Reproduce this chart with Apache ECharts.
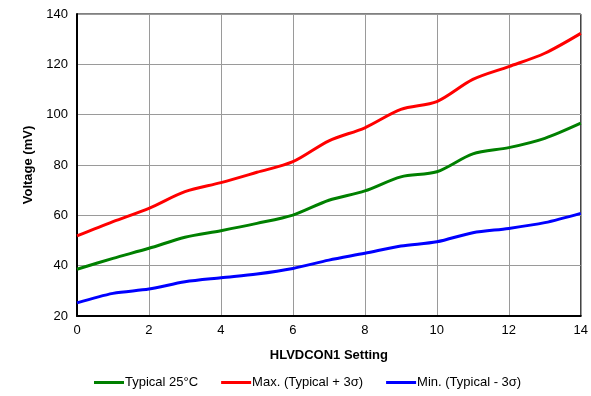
<!DOCTYPE html>
<html>
<head>
<meta charset="utf-8">
<script src="https://cdn.jsdelivr.net/npm/echarts@6/dist/echarts.min.js"></script>
<style>
  html, body { margin: 0; padding: 0; background: #fff; }
  #main { width: 591px; height: 396px; }
</style>
</head>
<body>
<div id="main"></div>
<script>
// HLVDCON1 settings 0..14
const settings = [0, 1, 2, 3, 4, 5, 6, 7, 8, 9, 10, 11, 12, 13, 14]

// voltages, mV
const typical = [38.6, 42.9, 46.9, 51.3, 53.9, 56.8, 60.1, 66.0, 69.7, 75.3, 77.3, 84.4, 86.9, 90.6, 96.6]
const maxVals = [51.8, 57.5, 62.8, 69.4, 73.0, 77.1, 81.3, 89.6, 94.8, 102.1, 105.2, 114.0, 119.1, 124.4, 132.3]
const minVals = [25.2, 29.0, 30.7, 33.6, 35.2, 36.7, 38.9, 42.2, 44.9, 47.8, 49.5, 53.1, 54.8, 57.1, 60.8]

const seriesNames = ['Typical 25°C', 'Max. (Typical + 3σ)', 'Min. (Typical - 3σ)']
const seriesColors = ['#008000', '#ff0000', '#0000ff']

const font = 'Liberation Sans, Arial, sans-serif'

function pairs(vals) {
    return settings.map((s, i) => [s, vals[i]])
}

const chart = echarts.init(document.getElementById('main'))

const option = {
    animation: false,
    grid: {
        left: 77, right: 7, top: 14, bottom: 80,
        show: true, borderColor: '#000', borderWidth: 1
    },
    legend: {
        bottom: 2,
        left: 89,
        icon: 'rect',
        itemWidth: 30,
        itemHeight: 3,
        itemGap: 23,
        textStyle: { fontFamily: font, fontSize: 13, color: '#000', padding: [0, 0, 0, -4] },
        data: seriesNames
    },
    xAxis: {
        type: 'value',
        min: 0, max: 14, interval: 2,
        name: 'HLVDCON1 Setting',
        nameLocation: 'middle',
        nameGap: 33,
        nameTextStyle: { fontFamily: font, fontSize: 13, fontWeight: 'bold', color: '#000' },
        axisLine: { lineStyle: { color: '#000', width: 2 } },
        axisTick: { show: false },
        axisLabel: { fontFamily: font, fontSize: 13, color: '#000', margin: 8 },
        splitLine: { lineStyle: { color: '#9a9a9a', width: 1 } }
    },
    yAxis: {
        type: 'value',
        min: 20, max: 140, interval: 20,
        name: 'Voltage (mV)',
        nameLocation: 'middle',
        nameGap: 37,
        nameTextStyle: { fontFamily: font, fontSize: 13, fontWeight: 'bold', color: '#000' },
        axisLine: { show: true, lineStyle: { color: '#000', width: 2 } },
        axisTick: { show: false },
        axisLabel: { fontFamily: font, fontSize: 13, color: '#000', margin: 9 },
        splitLine: { lineStyle: { color: '#9a9a9a', width: 1 } }
    },
    series: [typical, maxVals, minVals].map((vals, i) => ({
        name: seriesNames[i],
        type: 'line',
        data: pairs(vals),
        smooth: 0.3,
        showSymbol: false,
        color: seriesColors[i],
        lineStyle: { width: 3, color: seriesColors[i] }
    }))
}

chart.setOption(option)
</script>
</body>
</html>
